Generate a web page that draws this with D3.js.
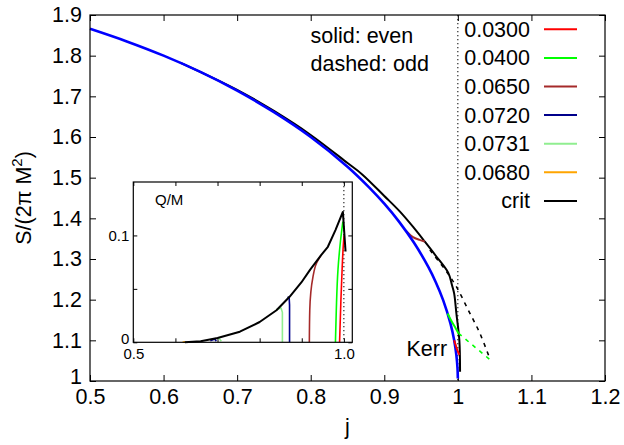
<!DOCTYPE html>
<html>
<head>
<meta charset="utf-8">
<script src="https://cdn.jsdelivr.net/npm/d3@7"></script>
<style>
	body { margin: 0; background: #fff; }
	text { font-family: "Liberation Sans", Arial, sans-serif; }
</style>
</head>
<body>
<div id="chart"></div>
<script>
// legend entries (Q values of the families)
const legendLabels = ["0.0300", "0.0400", "0.0650", "0.0720", "0.0731", "0.0680", "crit"];

const xTicks = [0.5, 0.6, 0.7, 0.8, 0.9, 1, 1.1, 1.2];
const yTicks = [1, 1.1, 1.2, 1.3, 1.4, 1.5, 1.6, 1.7, 1.8, 1.9];

// main panel, [j, S/(2 pi M^2)]
const kerr = [[0.5, 1.866], [0.55, 1.835], [0.6, 1.800], [0.65, 1.760], [0.7, 1.714], [0.75, 1.661],
	[0.8, 1.600], [0.85, 1.527], [0.88, 1.475], [0.9, 1.436], [0.92, 1.392], [0.94, 1.341],
	[0.96, 1.280], [0.97, 1.243], [0.98, 1.199], [0.99, 1.141], [0.995, 1.100], [0.998, 1.063],
	[0.9995, 1.032], [1.0, 1.006]];
const critEven = [[0.6225, 1.783], [0.7, 1.716], [0.75, 1.664], [0.8, 1.605], [0.85, 1.536],
	[0.87, 1.508], [0.9, 1.455], [0.921, 1.417], [0.94, 1.377], [0.955, 1.343], [0.97, 1.308],
	[0.987, 1.266], [0.992, 1.236], [0.995, 1.215], [0.998, 1.166], [1.002, 1.101], [1.003, 1.023]];
const critOdd = [[0.962, 1.322], [0.985, 1.268], [0.998, 1.232], [1.014, 1.175], [1.030, 1.117], [1.044, 1.052]];
const q0300 = [[0.995, 1.100], [0.9985, 1.080], [1.002, 1.064]];
const q0400Even = [[0.986, 1.166], [0.992, 1.145], [0.997, 1.130], [1.001, 1.117]];
const q0400Odd = [[1.001, 1.117], [1.044, 1.052]];
const q0650 = [[0.929, 1.370], [0.936, 1.358], [0.942, 1.351], [0.948, 1.347], [0.955, 1.343]];

// inset, [j, Q/M]
const insetXTicks = [0.5, 0.6, 0.7, 0.8, 0.9, 1.0];
const insetYTicks = [0, 0.05, 0.1];
const qmCrit = [[0.6225, 0], [0.66, 0.001], [0.70, 0.004], [0.753, 0.0099], [0.80, 0.019], [0.84, 0.030],
	[0.871, 0.0426], [0.899, 0.056], [0.92, 0.068], [0.946, 0.0816], [0.962, 0.0894], [0.98, 0.105],
	[0.9976, 0.122], [1.004, 0.085]];
const qm0300 = [[0.9898, 0], [0.993, 0.04], [0.996, 0.07], [0.9985, 0.09], [1.0005, 0.10]];
const qm0400 = [[0.980, 0], [0.982, 0.03], [0.986, 0.068], [0.992, 0.095], [0.9976, 0.113]];
const qm0650 = [[0.918, 0], [0.919, 0.03], [0.9265, 0.061], [0.935, 0.074], [0.946, 0.0816]];
const qm0720 = [[0.871, 0], [0.871, 0.035], [0.870, 0.042], [0.866, 0.042]];
const qm0720b = [[0.683, 0.0015], [0.694, 0.003], [0.697, 0.001]];
const qm0731 = [[0.854, 0], [0.854, 0.028], [0.851, 0.032], [0.84, 0.031]];
const qm0731b = [[0.70, 0.004], [0.705, 0.003], [0.709, 0.001]];
const qm0680 = [[0.617, 0], [0.623, 0.0004]];

const colors = ["#ff0000", "#00ff00", "#a52a2a", "#00008b", "#90ee90", "#ffa500", "#000000"];

const width = 624;
const height = 445;
const margin = ({ top: 15, right: 19, bottom: 64, left: 90 });
const fs = 21.5;

const x = d3.scaleLinear()
	.domain([0.5, 1.2])
	.range([margin.left, width - margin.right]);

const y = d3.scaleLinear()
	.domain([1, 1.9])
	.range([height - margin.bottom, margin.top]);

const svg = d3.select("#chart")
	.append("svg")
	.attr("width", width)
	.attr("height", height)
	.attr("viewBox", [0, 0, width, height]);

const fmt = d => String(d);

const xAxis = g => g
	.attr("transform", `translate(0,${height - margin.bottom})`)
	.call(d3.axisBottom(x).tickValues(xTicks).tickFormat(fmt).tickSizeInner(-6).tickSizeOuter(0).tickPadding(8))
	.call(g => g.select(".domain").remove());

const xAxisTop = g => g
	.attr("transform", `translate(0,${margin.top})`)
	.call(d3.axisTop(x).tickValues(xTicks).tickFormat("").tickSizeInner(-6).tickSizeOuter(0))
	.call(g => g.select(".domain").remove());

const yAxis = g => g
	.attr("transform", `translate(${margin.left},0)`)
	.call(d3.axisLeft(y).tickValues(yTicks).tickFormat(fmt).tickSizeInner(-6).tickSizeOuter(0).tickPadding(8))
	.call(g => g.select(".domain").remove())
	.call(g => g.selectAll(".tick text").filter(d => d === 1).attr("dy", "0.1em"));

const yAxisRight = g => g
	.attr("transform", `translate(${width - margin.right},0)`)
	.call(d3.axisRight(y).tickValues(yTicks).tickFormat("").tickSizeInner(-6).tickSizeOuter(0))
	.call(g => g.select(".domain").remove());

[xAxis, xAxisTop, yAxis, yAxisRight].forEach(a => {
	svg.append("g")
		.call(a)
		.call(g => g.selectAll("text").attr("font-size", fs).attr("fill", "#000")
			.attr("font-family", "'Liberation Sans', Arial, sans-serif"))
		.call(g => g.selectAll("line").attr("stroke", "#000"));
});

const line = d3.line()
	.x(d => x(d[0]))
	.y(d => y(d[1]))
	.curve(d3.curveCatmullRom);

// j = 1 marker
svg.append("line")
	.attr("x1", x(1)).attr("x2", x(1))
	.attr("y1", y(1.9)).attr("y2", y(1))
	.attr("stroke", "#000")
	.attr("stroke-width", 1)
	.attr("stroke-dasharray", "1.3,2.7");

function curve(data, color, w, dash) {
	svg.append("path")
		.datum(data)
		.attr("fill", "none")
		.attr("stroke", color)
		.attr("stroke-width", w)
		.attr("stroke-dasharray", dash || null)
		.attr("stroke-linejoin", "round")
		.attr("d", line);
}

curve(critEven, "#000", 2);
curve(critOdd, "#000", 1.6, "4,5");
curve(q0650, colors[2], 2);
curve(kerr, "#0000ff", 2.6);
curve(q0400Even, colors[1], 2);
curve(q0400Odd, colors[1], 1.6, "4,5");
curve(q0300, colors[0], 2);

svg.append("rect")
	.attr("x", margin.left)
	.attr("y", margin.top)
	.attr("width", width - margin.left - margin.right)
	.attr("height", height - margin.top - margin.bottom)
	.attr("fill", "none")
	.attr("stroke", "#000")
	.attr("stroke-width", 1.2);

// labels
svg.append("text")
	.attr("x", (margin.left + width - margin.right) / 2)
	.attr("y", 434)
	.attr("text-anchor", "middle")
	.attr("font-size", fs)
	.text("j");

svg.append("text")
	.attr("transform", `translate(31,${(margin.top + height - margin.bottom) / 2}) rotate(-90)`)
	.attr("text-anchor", "middle")
	.attr("font-size", fs)
	.call(t => t.append("tspan").text("S/(2π M"))
	.call(t => t.append("tspan").attr("font-size", fs * 0.7).attr("dy", -9).text("2"))
	.call(t => t.append("tspan").attr("dy", 9).text(")"));

svg.append("text")
	.attr("x", 310.5).attr("y", 42.5)
	.attr("font-size", fs)
	.text("solid: even");
svg.append("text")
	.attr("x", 310.5).attr("y", 71)
	.attr("font-size", fs)
	.text("dashed: odd");

svg.append("text")
	.attr("x", 406.5).attr("y", 356)
	.attr("font-size", fs)
	.text("Kerr");

// legend
const legend = svg.append("g")
	.selectAll("g")
	.data(legendLabels)
	.join("g")
	.attr("transform", (d, i) => `translate(0,${29.3 + i * 28.6})`);

legend.append("text")
	.attr("x", 530)
	.attr("dy", "0.35em")
	.attr("text-anchor", "end")
	.attr("font-size", fs)
	.text(d => d);

legend.append("line")
	.attr("x1", 544).attr("x2", 577)
	.attr("stroke", (d, i) => colors[i])
	.attr("stroke-width", 2);

// inset
const ix = d3.scaleLinear()
	.domain([0.5, 1.02])
	.range([133.3, 352.3]);

const iy = d3.scaleLinear()
	.domain([0, 0.15])
	.range([342.3, 182]);

const inset = svg.append("g");

inset.append("rect")
	.attr("x", ix(0.5))
	.attr("y", iy(0.15))
	.attr("width", ix(1.02) - ix(0.5))
	.attr("height", iy(0) - iy(0.15))
	.attr("fill", "#fff");

const ifs = 15;

const ixAxis = g => g
	.attr("transform", `translate(0,${iy(0)})`)
	.call(d3.axisBottom(ix).tickValues(insetXTicks)
		.tickFormat(d => d === 0.5 ? "0.5" : d === 1 ? "1.0" : "")
		.tickSizeInner(-4).tickSizeOuter(0).tickPadding(6))
	.call(g => g.select(".domain").remove());

const ixAxisTop = g => g
	.attr("transform", `translate(0,${iy(0.15)})`)
	.call(d3.axisTop(ix).tickValues(insetXTicks).tickFormat("").tickSizeInner(-4).tickSizeOuter(0))
	.call(g => g.select(".domain").remove());

const iyAxis = g => g
	.attr("transform", `translate(${ix(0.5)},0)`)
	.call(d3.axisLeft(iy).tickValues(insetYTicks)
		.tickFormat(d => d === 0 ? "0" : d === 0.1 ? "0.1" : "")
		.tickSizeInner(-4).tickSizeOuter(0).tickPadding(4))
	.call(g => g.select(".domain").remove())
	.call(g => g.selectAll(".tick text").filter(d => d === 0).attr("dy", "0.05em"));

const iyAxisRight = g => g
	.attr("transform", `translate(${ix(1.02)},0)`)
	.call(d3.axisRight(iy).tickValues(insetYTicks).tickFormat("").tickSizeInner(-4).tickSizeOuter(0))
	.call(g => g.select(".domain").remove());

[ixAxis, ixAxisTop, iyAxis, iyAxisRight].forEach(a => {
	inset.append("g")
		.call(a)
		.call(g => g.selectAll("text").attr("font-size", ifs).attr("fill", "#000")
			.attr("font-family", "'Liberation Sans', Arial, sans-serif"))
		.call(g => g.selectAll("line").attr("stroke", "#000"));
});

inset.append("line")
	.attr("x1", ix(1)).attr("x2", ix(1))
	.attr("y1", iy(0.15)).attr("y2", iy(0))
	.attr("stroke", "#000")
	.attr("stroke-width", 1)
	.attr("stroke-dasharray", "1.3,2.7");

const iline = d3.line()
	.x(d => ix(d[0]))
	.y(d => iy(d[1]))
	.curve(d3.curveMonotoneY);

const ilineX = d3.line()
	.x(d => ix(d[0]))
	.y(d => iy(d[1]));

function icurve(data, color, w, gen) {
	inset.append("path")
		.datum(data)
		.attr("fill", "none")
		.attr("stroke", color)
		.attr("stroke-width", w)
		.attr("stroke-linejoin", "round")
		.attr("d", gen || iline);
}

icurve(qm0680, colors[5], 1.6, ilineX);
icurve(qm0720b, colors[3], 1.6, ilineX);
icurve(qm0731b, colors[4], 1.6, ilineX);
icurve(qm0731, colors[4], 1.6, ilineX);
icurve(qm0720, colors[3], 1.6, ilineX);
icurve(qm0650, colors[2], 1.6);
icurve(qm0400, colors[1], 1.6);
icurve(qm0300, colors[0], 1.6);
icurve(qmCrit, "#000", 2, ilineX);

inset.append("rect")
	.attr("x", ix(0.5))
	.attr("y", iy(0.15))
	.attr("width", ix(1.02) - ix(0.5))
	.attr("height", iy(0) - iy(0.15))
	.attr("fill", "none")
	.attr("stroke", "#000")
	.attr("stroke-width", 1.2);

inset.append("text")
	.attr("x", 155)
	.attr("y", 205)
	.attr("font-size", ifs)
	.text("Q/M");
</script>
</body>
</html>
